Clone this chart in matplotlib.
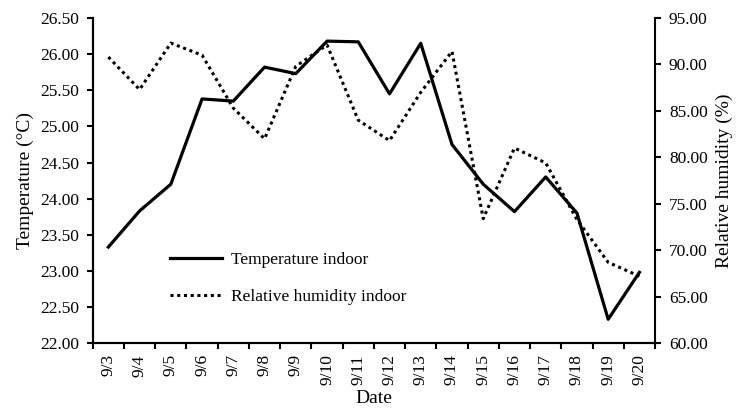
import numpy as np
import matplotlib
matplotlib.use("Agg")
import matplotlib.pyplot as plt

plt.rcParams['font.family'] = ['Liberation Serif', 'DejaVu Serif']

dates = ["9/3", "9/4", "9/5", "9/6", "9/7", "9/8", "9/9", "9/10", "9/11",
         "9/12", "9/13", "9/14", "9/15", "9/16", "9/17", "9/18", "9/19", "9/20"]
temperature = [23.33, 23.83, 24.20, 25.38, 25.35, 25.82, 25.73, 26.18, 26.17,
               25.45, 26.15, 24.75, 24.20, 23.82, 24.30, 23.80, 22.33, 22.98]
humidity = [90.8, 87.3, 92.3, 91.0, 85.3, 82.0, 89.8, 92.1, 84.0,
            81.8, 87.0, 91.4, 73.4, 81.0, 79.4, 73.3, 68.7, 67.2]

fig = plt.figure(figsize=(7.36, 4.09), dpi=100)
ax = fig.add_axes([0.126, 0.161, 0.764, 0.795])
ax2 = ax.twinx()

x = np.arange(len(dates)) + 0.5
l1, = ax.plot(x, temperature, color='black', lw=2.3, label='Temperature indoor')
l2, = ax2.plot(x, humidity, color='black', lw=2.2, ls=(0, (1, 1.2)), label='Relative humidity indoor')

ax.set_xlim(0, len(dates))
ax.set_ylim(22, 26.5)
ax2.set_ylim(60, 95)
ax.set_yticks(np.arange(22, 26.51, 0.5))
ax.set_yticklabels(["%.2f" % v for v in np.arange(22, 26.51, 0.5)])
ax2.set_yticks(np.arange(60, 95.1, 5))
ax2.set_yticklabels(["%.2f" % v for v in np.arange(60, 95.1, 5)])

ax.set_xticks(np.arange(len(dates) + 1))
ax.set_xticklabels([])
ax.set_xticks(x, minor=True)
ax.set_xticklabels(dates, minor=True, rotation=90)
ax.tick_params(axis='x', which='minor', length=0, pad=8)
ax.tick_params(axis='x', which='major', length=4, width=1.5, direction='out')
ax.tick_params(axis='y', length=4, width=1.5, direction='out', pad=6)
ax2.tick_params(axis='y', length=4, width=1.5, direction='out', pad=6)
for a in (ax, ax2):
    a.tick_params(labelsize=12.5)
    a.spines['top'].set_visible(False)
    for s in a.spines.values():
        s.set_linewidth(1.5)
ax.tick_params(axis='x', which='minor', labelsize=12.5)
ax.spines['right'].set_visible(False)

ax.set_xlabel("Date", fontsize=14)
ax.xaxis.set_label_coords(0.5, -0.145)
ax.set_ylabel("Temperature (°C)", fontsize=14, labelpad=4)
ax2.set_ylabel("Relative humidity (%)", fontsize=14, labelpad=6)

ax.legend(handles=[l1, l2], loc='lower left', bbox_to_anchor=(0.11, 0.07),
          frameon=False, fontsize=12.5, handlelength=3.0, handletextpad=0.5,
          labelspacing=1.2)

fig.savefig("out.png", dpi=100)
